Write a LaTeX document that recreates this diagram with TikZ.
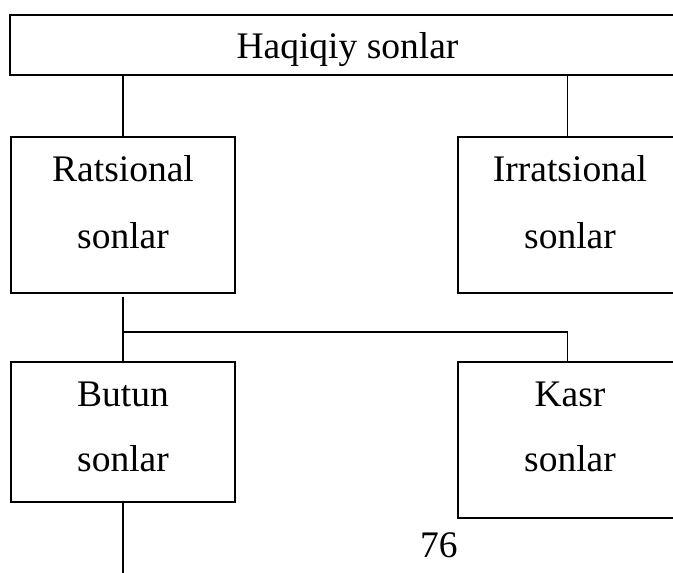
\documentclass[tikz,border=0pt]{standalone}
\usepackage{fontspec}
\setmainfont{Liberation Serif}
\begin{document}
\begin{tikzpicture}[x=1pt,y=-1pt,
  box/.style={draw,line width=2pt,inner sep=0pt,outer sep=0pt},
  lbl/.style={anchor=base,inner sep=0pt,font=\fontsize{37.5}{44}\selectfont},
  conn/.style={line width=1.7pt}]
\useasboundingbox (0,0) rectangle (673,573);
\clip (0,0) rectangle (673,573);
% boxes
\node[box,minimum width=675pt,minimum height=60pt] (haq) at (347.5,45) {};
\node[box,minimum width=224pt,minimum height=155.5pt] (rat) at (123,215) {};
\node[box,minimum width=224pt,minimum height=155.5pt] (irr) at (570,215) {};
\node[box,minimum width=224pt,minimum height=139.4pt] (but) at (123,432) {};
\node[box,minimum width=224pt,minimum height=155.4pt] (kas) at (570,440) {};
% texts
\node[lbl] (t1) at (347.5,58.3) {Haqiqiy sonlar};
\node[lbl] (t2) at (123,181.7) {Ratsional};
\node[lbl] (t3) at (123,248.3) {sonlar};
\node[lbl] (t4) at (570,181.7) {Irratsional};
\node[lbl] (t5) at (570,248.3) {sonlar};
\node[lbl] (t6) at (123,406.7) {Butun};
\node[lbl] (t7) at (123,471.7) {sonlar};
\node[lbl] (t8) at (570,406.7) {Kasr};
\node[lbl] (t9) at (570,471.7) {sonlar};
\node[lbl,anchor=base west] (pg) at (420,557) {76};
% connectors
\coordinate (irrtop) at (567.5,137);
\coordinate (kastop) at (567.5,362.3);
\coordinate (rs) at (123,297);
\coordinate (split) at (123,332);
\coordinate (bend) at (567.5,332);
\coordinate (endb) at (123,573);
\draw[conn] (haq.south -| rat.north) -- (rat.north);
\draw[conn] (haq.south -| irrtop) -- (irrtop);
\draw[conn] (rs) -- (but.north);
\draw[conn] (split) -- (bend) -- (kastop);
\draw[conn] (but.south) -- (endb);
\end{tikzpicture}
\end{document}
